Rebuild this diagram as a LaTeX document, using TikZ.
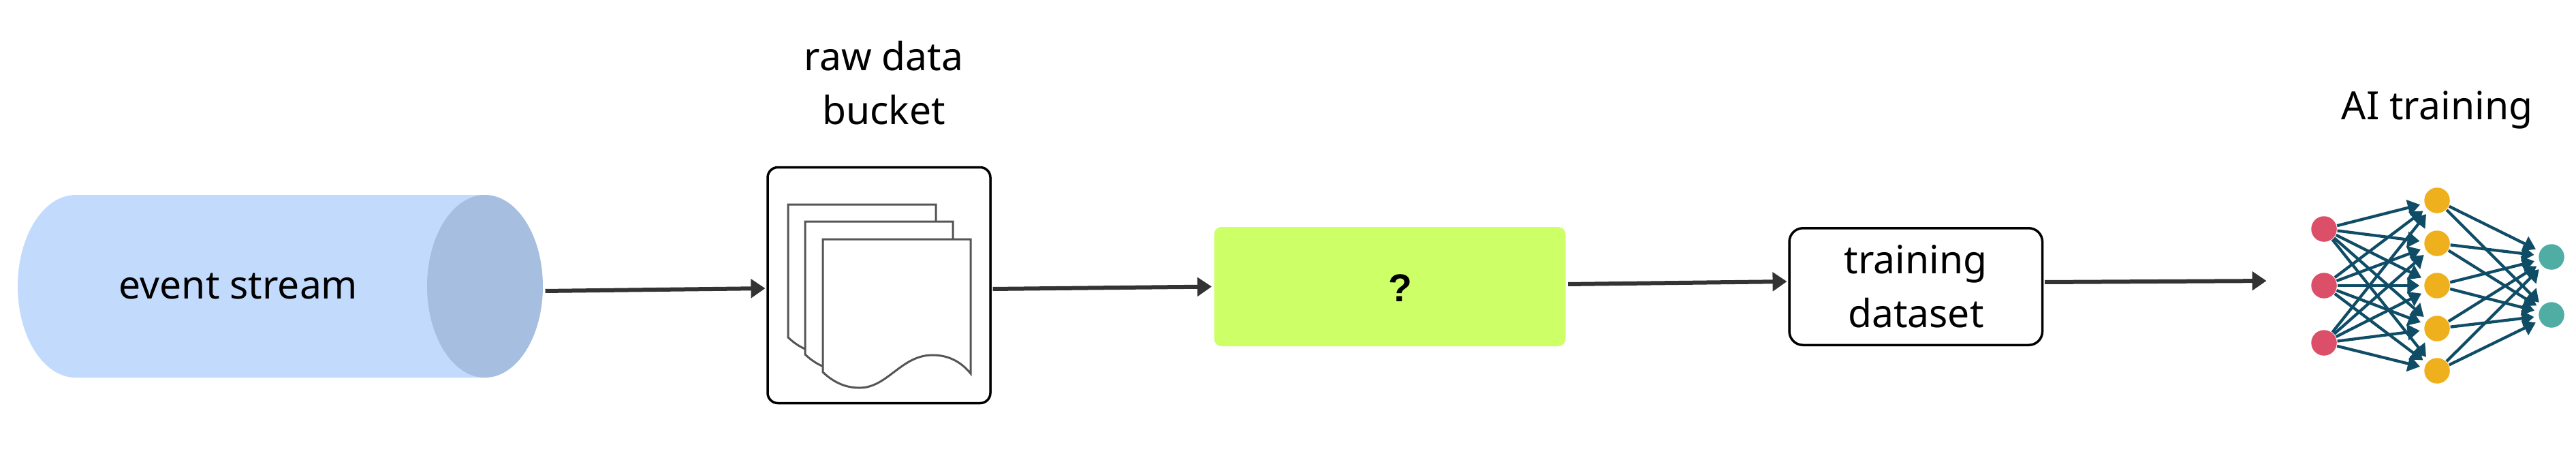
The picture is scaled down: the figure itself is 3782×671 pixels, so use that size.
\documentclass[tikz,border=0pt]{standalone}
\usepackage{fontspec}
\setmainfont{Noto Sans}
\newfontfamily\markfont{Liberation Sans}
\usetikzlibrary{arrows.meta}
\usetikzlibrary{positioning}

\definecolor{streambody}{HTML}{C2DBFD}
\definecolor{streamend}{HTML}{A6BEDF}
\definecolor{unknownfill}{HTML}{CDFF66}
\definecolor{flowline}{HTML}{333333}
\definecolor{docline}{HTML}{555555}
\definecolor{netlink}{HTML}{0F4C66}
\definecolor{netred}{HTML}{DB5068}
\definecolor{netyellow}{HTML}{EFB01E}
\definecolor{netteal}{HTML}{4FADA4}

\tikzset{
  flow/.style={-{Triangle[length=4.2pt,width=5.4pt]},line width=1.2pt,
    draw=flowline,shorten >=0.7pt,shorten <=0.7pt},
  box/.style={shape=rectangle,draw,line width=0.7pt,inner sep=0pt,
    outer sep=0pt,align=center},
  neuron/.style={shape=circle,minimum size=7.5pt,inner sep=0pt},
  netedge/.style={-{Triangle[length=3.6pt,width=4.6pt]},line width=0.85pt,
    draw=netlink,shorten >=1.2pt},
  doc/.style={draw=docline,fill=white,line width=0.6pt}
}

\begin{document}
\begin{tikzpicture}[x=0.2pt,y=-0.2pt,
    font=\fontsize{11.4pt}{15.8pt}\selectfont,
    node distance=65.7pt]
    \path [use as bounding box] (0,0) rectangle (3782,671);

    \node[name=stream,
      shape=rectangle,
      minimum width=154.2pt,
      minimum height=53.6pt,
      inner sep=0pt,
      outer sep=0pt] at (411.5,420) {};
    \fill[streambody] (712,286) -- (111,286)
      arc[start angle=-90,end angle=-270,x radius=85,y radius=134]
      -- (712,554) -- cycle;
    \fill[streamend] (712,420) ellipse[x radius=85,y radius=134];
    \node[name=streamtext,anchor=base] at (350,438) {event stream};

    \node[name=bucket,
      box,
      rounded corners=3pt,
      minimum width=65.4pt,
      minimum height=69.2pt,
      xshift=0.3pt,
      yshift=0.3pt,
      right=of stream] {};

    \foreach \docx/\docy in {1157/300,1182/325,1208/351}
      \draw[doc,shift={(\docx,\docy)}] (0,0) -- (0,195)
        .. controls (18,212) and (36,218) .. (54,218)
        .. controls (95,218) and (115,170) .. (161,170)
        .. controls (185,170) and (203,180) .. (217,197)
        -- (217,0) -- cycle;

    \node[name=bucketlabel,
      align=center,
      inner sep=0pt,
      xshift=1.4pt,
      above=12.2pt of bucket] {raw data\\bucket};

    \node[name=unknown,
      shape=rectangle,
      fill=unknownfill,
      rounded corners=2.2pt,
      minimum width=103.2pt,
      minimum height=35pt,
      inner sep=0pt,
      outer sep=0pt,
      text height=8.7pt,
      yshift=-0.4pt,
      right=of bucket] {\hspace{6pt}\markfont\bfseries ?};

    \node[name=train,
      box,
      rounded corners=4pt,
      minimum width=74.3pt,
      minimum height=34.3pt,
      right=of unknown] {training\\dataset};

    \coordinate[name=netin,xshift=0.8pt,yshift=1.7pt,right=of train];

    \foreach \i/\y in {1/336,2/419,3/503}
      \node[name=in\i,neuron,fill=netred] at (3412,\y) {};
    \foreach \i/\y in {1/294,2/357,3/419,4/482,5/544}
      \node[name=hid\i,neuron,fill=netyellow] at (3578,\y) {};
    \foreach \i/\y in {1/377,2/462}
      \node[name=out\i,neuron,fill=netteal] at (3746,\y) {};

    \node[name=netlabel,inner sep=0pt,above=16.8pt of hid1] {AI training};

    \path ([yshift=-1.4pt]stream.east) edge[flow] ([yshift=-0.9pt]bucket.west);
    \path ([yshift=-1.1pt]bucket.east) edge[flow] (unknown.west);
    \path ([yshift=0.7pt]unknown.east) edge[flow] ([yshift=1.5pt]train.west);
    \path ([yshift=1.3pt]train.east) edge[flow] (netin);

    \foreach \i in {1,2,3}
      \foreach \j in {1,...,5}
        \path (in\i) edge[netedge] (hid\j);
    \foreach \j in {1,...,5}
      \foreach \k in {1,2}
        \path (hid\j) edge[netedge] (out\k);
  \end{tikzpicture}
\end{document}
